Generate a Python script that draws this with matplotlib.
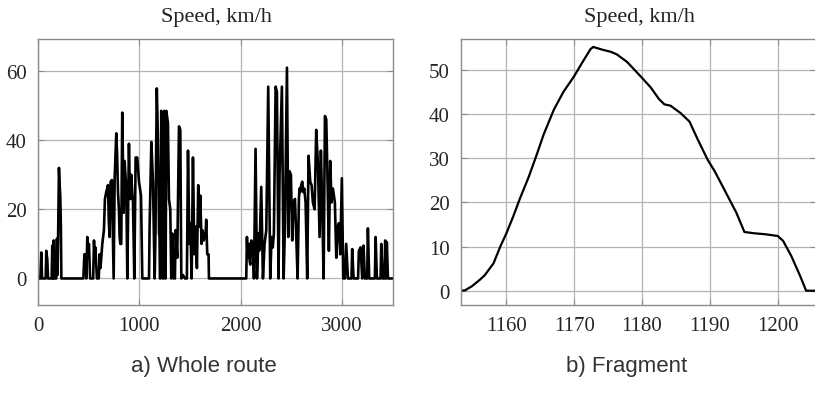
import numpy as np
import matplotlib
matplotlib.use("Agg")
import matplotlib.pyplot as plt

# Speed along the whole route (time, s / speed, km/h), vertices of the trace
route_t = [0, 23, 33, 40, 76, 82, 92, 99, 135, 141, 148, 155, 161, 180, 187, 193, 200, 207, 214, 220, 226, 231,
           448, 458, 464, 470, 477, 487, 495, 503, 515, 545, 553, 560, 566, 582,
           600, 609, 617, 625, 635, 651, 661, 674, 691, 700, 707, 717, 730, 747,
           757, 773, 781, 790, 799, 806, 813, 822, 832, 846, 855, 863, 872, 882, 898, 905, 911, 921, 930, 938, 951,
           964, 980, 997, 1017, 1030, 1096,
           1102, 1119, 1135, 1152, 1160, 1166, 1173, 1183, 1190, 1195, 1200, 1204,
           1210, 1217, 1234, 1240, 1247, 1260, 1267, 1283, 1293, 1306, 1316, 1326, 1339,
           1352, 1359, 1375, 1392, 1405, 1415, 1431, 1451, 1470, 1481, 1494, 1504, 1517,
           1530, 1543, 1556, 1569, 1582, 1596, 1602, 1615, 1622, 1629, 1637, 1645, 1653, 1661, 1671, 1684, 1688,
           2056, 2063, 2068, 2073, 2078, 2083, 2090, 2096, 2101, 2106, 2114, 2122, 2132, 2148, 2162, 2178, 2183,
           2188, 2204, 2221,
           2237, 2254, 2273, 2293, 2306, 2318, 2329, 2346, 2359, 2375, 2385, 2408, 2425,
           2438, 2458, 2471, 2484, 2497, 2510, 2523, 2537, 2550, 2563,
           2576, 2582, 2589, 2599, 2609, 2619, 2629, 2642, 2658, 2671, 2688, 2701, 2714, 2731, 2747, 2764, 2780,
           2793, 2806, 2820, 2833, 2846, 2859, 2872, 2885, 2898, 2912, 2931, 2945, 2958, 2971,
           2984, 3000, 3014, 3030, 3043, 3060, 3095, 3102, 3116, 3160, 3168, 3185, 3201, 3214,
           3227, 3250, 3257, 3270, 3326, 3333, 3346, 3382, 3389, 3402, 3420, 3428, 3436, 3444,
           3455, 3500]
route_v = [0, 0, 7.5, 0, 0, 8, 5.5, 0, 0, 9.5, 0, 11, 0, 0, 11.5, 1, 15, 32, 27, 24, 15, 0,
           0, 7, 4, 7, 0, 12, 7, 10, 0, 0, 11, 6, 9, 0,
           0, 7, 3, 6, 10, 14, 23, 25, 27, 16, 12, 28, 28.5, 0,
           29, 42, 36, 25, 20, 12, 10, 10, 48, 19, 34, 30, 26, 0, 39, 28, 23, 30, 25, 22, 0,
           35, 35, 28, 24, 0, 0,
           15, 39.5, 28, 0, 13, 35, 55, 42, 29, 13, 12, 0,
           0, 48.5, 0, 0, 48.5, 0, 48.5, 45, 23, 20, 0, 13, 0,
           0, 14, 6, 44, 43, 0, 1, 0, 0, 37, 10, 16, 0,
           35, 7, 15, 3, 27, 15, 24, 10, 14, 13, 11, 13, 12, 17, 7, 7, 0,
           0, 12, 7, 6, 9, 10, 5, 4, 8, 11, 8, 10, 0, 37.5, 0, 13, 8,
           9, 26.5, 0,
           10, 14, 55.5, 0, 12, 9, 13, 55.5, 54, 0, 30, 55.5, 0,
           15, 61, 12, 31, 30, 11, 22, 23, 12, 0,
           23, 26, 25, 27, 28, 25, 26, 22, 0, 35.5, 28, 27, 22, 20, 43, 33, 12,
           37, 21, 0, 47, 46, 28, 8, 34, 22, 26, 22, 6, 15, 16,
           7, 29, 0, 0, 10, 0, 0, 8.5, 0, 0, 8, 9, 0, 9.5,
           0, 0, 14.5, 0, 0, 12, 0, 0, 10, 0, 0, 11, 0, 10.5,
           0, 0]

# Zoomed fragment around t = 1153..1206 s
frag_t = [1153.3, 1153.9, 1154.9, 1156.1, 1156.8, 1158.1, 1159.1, 1160.0, 1161.0, 1162.0,
          1163.3, 1164.4, 1165.5, 1167.0, 1168.4, 1170.0, 1171.2, 1172.4, 1172.8, 1174.1,
          1175.4, 1176.3, 1177.8, 1180.0, 1181.3, 1182.5, 1183.3, 1184.2, 1185.7, 1187.0,
          1188.2, 1189.7, 1190.7, 1192.1, 1193.9, 1195.1, 1196.6, 1198.1, 1200.0, 1200.8,
          1202.0, 1203.3, 1204.2, 1205.7]
frag_v = [0.0, 0.1, 1.0, 2.5, 3.5, 6.2, 10.0, 13.0, 16.8, 20.9,
          25.8, 30.5, 35.4, 41.0, 45.0, 48.6, 51.7, 54.7, 55.2, 54.6,
          54.1, 53.5, 51.8, 48.2, 46.0, 43.4, 42.2, 41.9, 40.2, 38.3,
          34.3, 29.6, 27.1, 23.0, 17.7, 13.3, 13.0, 12.8, 12.4, 11.3,
          7.9, 3.4, 0.0, 0.0]

left_xticks = [0, 1000, 2000, 3000]
left_yticks = [0, 20, 40, 60]
right_xticks = [1160, 1170, 1180, 1190, 1200]
right_yticks = [0, 10, 20, 30, 40, 50]

SERIF = "Liberation Serif"
SANS = "Liberation Sans"
GRID = "#b4b4b4"
FRAME = "#8a8a8a"

fig = plt.figure(figsize=(8.15, 4.02), dpi=100)
ax1 = fig.add_axes([0.0466, 0.2395, 0.4350, 0.6610])
ax2 = fig.add_axes([0.5656, 0.2395, 0.4360, 0.6610])


def style(ax, xt, yt, xlim, ylim):
    ax.set_xlim(*xlim)
    ax.set_ylim(*ylim)
    ax.set_xticks(xt)
    ax.set_yticks(yt)
    ax.grid(True, color=GRID, linewidth=0.9)
    ax.set_axisbelow(True)
    for s in ax.spines.values():
        s.set_color(FRAME)
        s.set_linewidth(1.0)
    ax.tick_params(direction="in", top=True, right=True, length=4, color=FRAME,
                   labelsize=15, pad=8, labelcolor="#262626")
    for lab in ax.get_xticklabels() + ax.get_yticklabels():
        lab.set_family(SERIF)


ax1.plot(route_t, route_v, color="black", linewidth=1.9)
style(ax1, left_xticks, left_yticks, (0, 3500), (-7.6, 69.3))

ax2.plot(frag_t, frag_v, color="black", linewidth=1.6, solid_joinstyle="round")
style(ax2, right_xticks, right_yticks, (1153.3, 1205.7), (-3.17, 57.0))

fig.text(0.266, 0.957, "Speed, km/h", family=SERIF, fontsize=16, ha="center", va="center", color="#222222")
fig.text(0.785, 0.957, "Speed, km/h", family=SERIF, fontsize=16, ha="center", va="center", color="#222222")
fig.text(0.250, 0.088, "a) Whole route", family=SANS, fontsize=16, ha="center", va="center", color="#333333")
fig.text(0.769, 0.088, "b) Fragment", family=SANS, fontsize=16, ha="center", va="center", color="#333333")

fig.savefig("out.png", dpi=100)
